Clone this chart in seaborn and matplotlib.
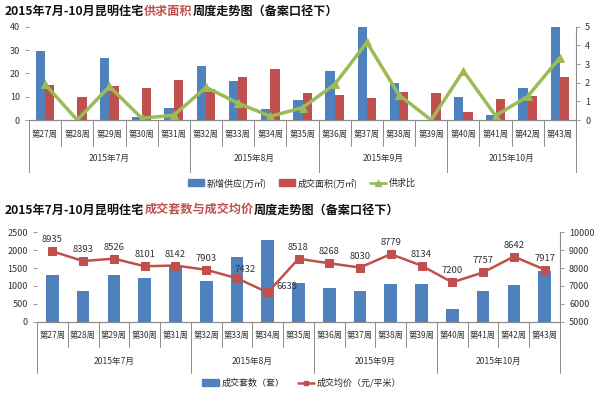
import numpy as np
import pandas as pd
import seaborn as sns
import matplotlib.pyplot as plt
from matplotlib.lines import Line2D
from matplotlib.patches import Patch

sns.set_style("white")
plt.rcParams["font.family"] = ["Noto Sans CJK SC", "DejaVu Sans"]

# data
weeks = ["第27周", "第28周", "第29周", "第30周", "第31周", "第32周", "第33周", "第34周", "第35周",
         "第36周", "第37周", "第38周", "第39周", "第40周", "第41周", "第42周", "第43周"]
months = ["2015年7月", "2015年8月", "2015年9月", "2015年10月"]
month_weeks = [5, 4, 4, 4]

supply = [29.6, 0, 26.7, 1.4, 5.1, 23.3, 16.7, 4.9, 8.4, 21.1, 40, 15.9, 0, 9.7, 2.0, 13.6, 40]
deal = [14.9, 9.7, 14.6, 13.6, 17.0, 13.3, 18.3, 22.0, 11.7, 10.6, 9.3, 11.8, 11.7, 3.6, 9.0, 10.5, 18.3]
ratio = [1.91, 0, 1.8, 0.1, 0.25, 1.75, 0.9, 0.2, 0.66, 1.91, 4.16, 1.34, 0, 2.63, 0.23, 1.27, 3.34]

units = [1306, 858, 1306, 1222, 1570, 1147, 1800, 2285, 1073, 951, 858, 1063, 1063, 364, 867, 1017, 1427]
price = [8935, 8393, 8526, 8101, 8142, 7903, 7432, 6635, 8518, 8268, 8030, 8779, 8134, 7200, 7757, 8642, 7917]

BLUE = "#4F81BD"
RED = "#C0504D"
GREEN = "#9BBB59"
AXC = "#8C8C8C"
TXT = "#333333"

fig = plt.figure(figsize=(6, 3.93), dpi=100)
H = 393.0


def axes_px(x0, x1, ytop, ybot):
    return fig.add_axes([x0 / 600, 1 - ybot / H, (x1 - x0) / 600, (ybot - ytop) / H])


def rich_title(y, parts, size=8.7):
    r = fig.canvas.get_renderer()
    x = 5 / 600
    for s, c in parts:
        t = fig.text(x, 1 - y / H, s, color=c, fontsize=size, fontweight="bold",
                     ha="left", va="center")
        x += t.get_window_extent(renderer=r).width / fig.bbox.width


def style_axes(ax, ax2):
    for a in (ax, ax2):
        a.spines["top"].set_visible(False)
        a.spines["left"].set_visible(False)
        a.spines["bottom"].set_color(AXC)
        a.spines["right"].set_color(AXC)
        a.spines["bottom"].set_linewidth(0.8)
        a.spines["right"].set_linewidth(0.8)
    ax.spines["right"].set_visible(False)
    ax2.spines["right"].set_visible(True)
    ax.tick_params(axis="y", colors=AXC, labelcolor=TXT, labelsize=6.5, length=3, width=0.6, direction="out", left=True)
    ax2.tick_params(axis="y", colors=AXC, labelcolor=TXT, labelsize=6.5, length=3, width=0.6, direction="out")
    ax.tick_params(axis="x", length=0, labelbottom=False)
    ax.set_xlabel("")
    ax.set_ylabel("")
    ax2.set_ylabel("")
    ax.set_xlim(-0.5, len(weeks) - 0.5)


def category_axis(ax, wk_y, wk_sep, mo_y, mo_sep):
    tr = ax.get_xaxis_transform()
    n = len(weeks)
    for i, w in enumerate(weeks):
        ax.text(i, wk_y, w, transform=tr, ha="center", va="center", fontsize=6.0, color=TXT)
    bounds = np.cumsum([0] + month_weeks) - 0.5
    for b in np.arange(n + 1) - 0.5:
        ax.plot([b, b], [0, wk_sep], transform=tr, color=AXC, lw=0.7, clip_on=False)
    for b in bounds:
        ax.plot([b, b], [0, mo_sep], transform=tr, color=AXC, lw=0.7, clip_on=False)
    for k, m in enumerate(months):
        ax.text((bounds[k] + bounds[k + 1]) / 2, mo_y, m, transform=tr, ha="center", va="center",
                fontsize=6.2, color=TXT)


# ---------------- top chart: supply / demand area ----------------
rich_title(11, [("2015年7月-10月昆明住宅", "#111111"), ("供求面积", RED),
                ("周度走势图（备案口径下）", "#111111")])

ax = axes_px(29, 576, 26.7, 120)
df = pd.DataFrame({"week": weeks * 2,
                   "value": supply + deal,
                   "series": ["新增供应(万㎡)"] * len(weeks) + ["成交面积(万㎡)"] * len(weeks)})
sns.barplot(data=df, x="week", y="value", hue="series", order=weeks, palette=[BLUE, RED],
            width=0.58, saturation=1, ax=ax, legend=False, linewidth=0)
ax.set_ylim(0, 40)
ax.set_yticks([0, 10, 20, 30, 40])

ax2 = ax.twinx()
sns.lineplot(x=np.arange(len(weeks)), y=ratio, ax=ax2, color=GREEN, lw=2.5, marker="^",
             markersize=6, markeredgecolor=GREEN)
ax2.set_ylim(0, 5)
ax2.set_yticks([0, 1, 2, 3, 4, 5])
style_axes(ax, ax2)
category_axis(ax, -0.15, -0.28, -0.41, -0.56)

fig.legend(handles=[Patch(color=BLUE), Patch(color=RED),
                    Line2D([], [], color=GREEN, lw=2, marker="^", markersize=4)],
           labels=["新增供应(万㎡)", "成交面积(万㎡)", "供求比"],
           loc="center", bbox_to_anchor=(0.503, 1 - 183 / H), ncol=3, frameon=False,
           fontsize=6.5, handlelength=1.8, handleheight=0.8, columnspacing=1.3, handletextpad=0.3)

# ---------------- bottom chart: units and average price ----------------
rich_title(210, [("2015年7月-10月昆明住宅", "#111111"), ("成交套数与成交均价", RED),
                 ("周度走势图（备案口径下）", "#111111")])

bx = axes_px(37, 560, 232.3, 321.7)
sns.barplot(x=weeks, y=units, order=weeks, color=BLUE, width=0.41, saturation=1, ax=bx, linewidth=0)
bx.set_ylim(0, 2500)
bx.set_yticks([0, 500, 1000, 1500, 2000, 2500])

bx2 = bx.twinx()
sns.lineplot(x=np.arange(len(weeks)), y=price, ax=bx2, color=RED, lw=1.8, marker="s",
             markersize=6, markeredgecolor=RED)
bx2.set_ylim(5000, 10000)
bx2.set_yticks([5000, 6000, 7000, 8000, 9000, 10000])
style_axes(bx, bx2)
category_axis(bx, -0.15, -0.28, -0.45, -0.57)

for i, v in enumerate(price):
    if v == 7432:
        bx2.annotate(str(v), (i, v), xytext=(-2, 6), textcoords="offset points",
                     ha="left", va="center", fontsize=6.8, color=TXT)
    elif v == 6635:
        bx2.annotate(str(v), (i, v), xytext=(6, 4), textcoords="offset points",
                     ha="left", va="center", fontsize=6.8, color=TXT)
    else:
        bx2.annotate(str(v), (i, v), xytext=(0, 5), textcoords="offset points",
                     ha="center", va="bottom", fontsize=6.8, color=TXT)

fig.legend(handles=[Patch(color=BLUE),
                    Line2D([], [], color=RED, lw=1.8, marker="s", markersize=3.5)],
           labels=["成交套数（套）", "成交均价（元/平米）"],
           loc="center", bbox_to_anchor=(0.503, 1 - 383 / H), ncol=2, frameon=False,
           fontsize=6.5, handlelength=1.8, handleheight=0.8, columnspacing=1.5, handletextpad=0.3)

fig.savefig("out.png", dpi=100)
